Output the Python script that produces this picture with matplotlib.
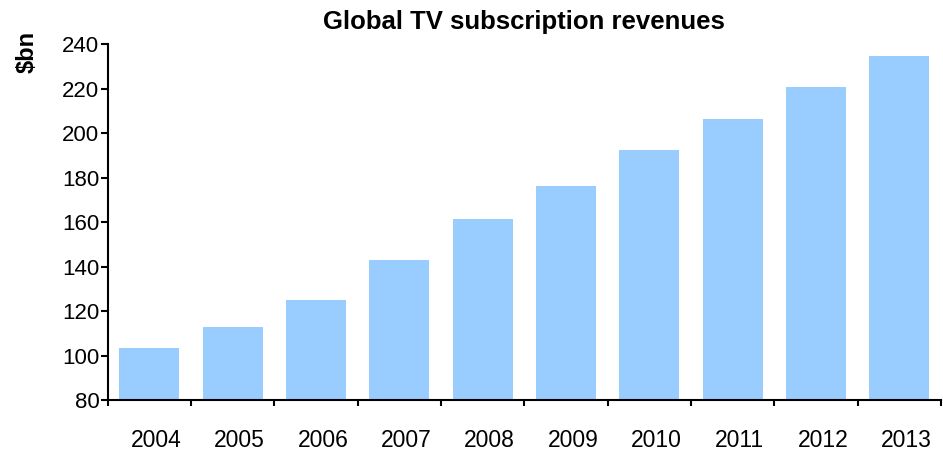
import numpy as np
import matplotlib.pyplot as plt
import matplotlib.transforms as mtransforms
from matplotlib.ticker import FixedLocator, NullFormatter

plt.rcParams['font.family'] = ['Liberation Sans', 'DejaVu Sans']

# Global TV subscription revenues, $bn
years = ['2004', '2005', '2006', '2007', '2008', '2009', '2010', '2011', '2012', '2013']
revenues = [103.3, 112.8, 125.0, 143.0, 161.4, 176.3, 192.5, 206.4, 220.8, 234.7]

fig = plt.figure(figsize=(9.43, 4.51), dpi=100)
ax = fig.add_axes([0.1142, 0.1131, 0.8837, 0.7887])

x = np.arange(len(years))
ax.bar(x, np.array(revenues) - 80, bottom=80, width=0.72, color='#99CCFF')

ax.set_xlim(-0.5, len(years) - 0.5)
ax.set_ylim(80, 240)
ax.set_yticks(np.arange(80, 241, 20))

# category labels centred, tick marks on every boundary (both ends too)
ax.set_xticks(x)
ax.set_xticklabels(years)
ax.tick_params(axis='x', which='major', length=0, pad=21, labelsize=16.5)
ax.xaxis.set_minor_locator(FixedLocator(np.arange(-0.5, len(years), 1)))
ax.xaxis.set_minor_formatter(NullFormatter())
ax.tick_params(axis='x', which='minor', length=4.5, width=1.5, direction='out')
ax.tick_params(axis='y', length=5, width=1.5, direction='out', labelsize=16, pad=1)

# year labels sit a little right of the bar centres
shift = mtransforms.ScaledTranslation(7 / 100, 0, fig.dpi_scale_trans)
for lbl in ax.get_xticklabels():
    lbl.set_transform(lbl.get_transform() + shift)

for side in ['top', 'right']:
    ax.spines[side].set_visible(False)
for side in ['left', 'bottom']:
    ax.spines[side].set_linewidth(1.5)

ax.set_title('Global TV subscription revenues', fontsize=18.5, fontweight='bold', pad=11)
fig.text(0.0286, 0.885, '$bn', rotation=90, fontsize=17, fontweight='bold',
         ha='center', va='center')

fig.savefig('out.png', dpi=100)
